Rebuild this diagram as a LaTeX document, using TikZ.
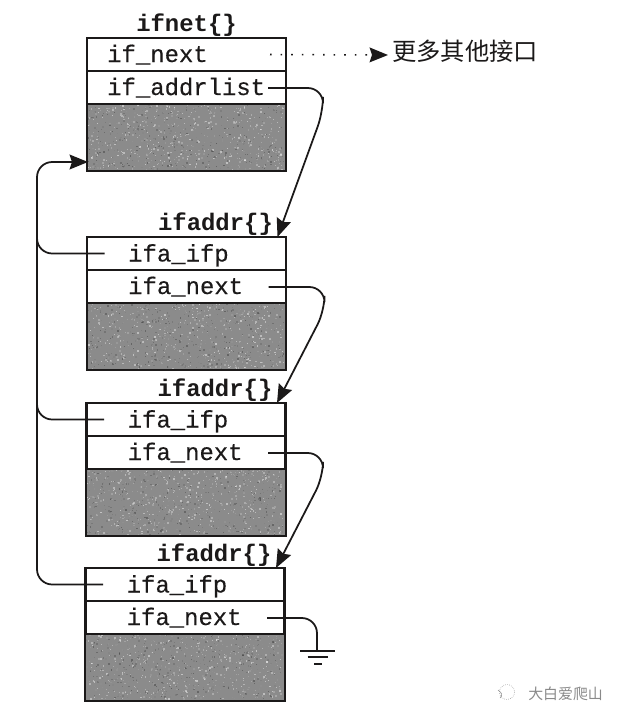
\documentclass[tikz,border=0pt]{standalone}
\usepackage{fontspec}
\setmonofont{Liberation Mono}
\newfontfamily\fieldfont{Liberation Mono}[FakeBold=0.3]
\newfontfamily\cjk{Noto Sans CJK SC}
\usetikzlibrary{arrows.meta,calc}
\definecolor{ink}{HTML}{1B1919}
\definecolor{grainGray}{HTML}{8B8B8B}
\definecolor{markGray}{HTML}{8A8A8A}
\tikzset{
  fieldbox/.style={rectangle, draw=ink, fill=white, line width=1.5pt, minimum width=4.975cm, minimum height=0.825cm, inner sep=0pt},
  grainbox/.style={rectangle, fill=grainGray, minimum width=4.975cm, minimum height=1.675cm, inner sep=0pt},
  lbl/.style={font=\fieldfont\fontsize{17}{20}\selectfont, text=ink, inner sep=0pt, anchor=base west},
  ttl/.style={font=\ttfamily\bfseries\fontsize{17}{20}\selectfont, text=ink, inner sep=0pt, anchor=base},
}
\newcommand{\speckle}[1]{%
  \begin{scope}[shift={(#1.north west)}]
  \foreach \i in {1,...,900} {
    \pgfmathsetmacro{\gx}{rnd*196}
    \pgfmathsetmacro{\gy}{rnd*65}
    \pgfmathsetmacro{\gs}{0.8+rnd*1.0}
    \pgfmathsetmacro{\gw}{int(25+rnd*75)}
    \fill[white!\gw!black, opacity=0.5] (\gx,\gy) rectangle ++(\gs,\gs);
  }
  \end{scope}
  \draw[ink, line width=1.5pt] (#1.north west) rectangle (#1.south east);
}
\begin{document}
\begin{tikzpicture}[x=0.025cm, y=-0.025cm,
  link/.style={draw=ink, line width=1.25pt, rounded corners=0.38cm},
  tip/.style={-{Stealth[length=4.6mm, width=3.7mm, inset=0.6mm]}},
  wire/.style={draw=ink, line width=1.1pt}]
\useasboundingbox (0,0) rectangle (622,718);
\pgfmathsetseed{41}
\node[ttl] (ifnetTitle) at (186.5,31) {ifnet\{\}};
\node[fieldbox] (ifNext) at (186.5,54.5) {};
\node[fieldbox] (ifAddrlist) at (186.5,87.5) {};
\node[grainbox] (ifnetGrain) at (186.5,137.5) {};
\speckle{ifnetGrain}
\node[lbl] (ifNextText) at (107,62) {if\_next};
\node[lbl] (ifAddrlistText) at (107,95) {if\_addrlist};
\foreach \n/\x/\y in {A/186.5/237,B/186/403,C/185/568} {
  \node[ttl] (title\n) at ($(\x,\y)+(29,-7)$) {ifaddr\{\}};
  \node[fieldbox] (ifp\n) at ($(\x,\y)+(0,16.5)$) {};
  \node[fieldbox] (next\n) at ($(\x,\y)+(0,49.5)$) {};
  \node[grainbox] (grain\n) at ($(\x,\y)+(0,99.5)$) {};
  \speckle{grain\n}
  \node[lbl] (ifpText\n) at ($(\x,\y)+(-58.5,24.5)$) {ifa\_ifp};
  \node[lbl] (nextText\n) at ($(\x,\y)+(-58.5,57)$) {ifa\_next};
  \coordinate (ifpOut\n) at ($(\x,\y)+(-82,16.5)$);
  \coordinate (nextOut\n) at ($(\x,\y)+(82,50)$);
  \coordinate (addrIn\n) at ($(\x,\y)+(91,0)$);
}
\node[font=\cjk\fontsize{17.3}{20}\selectfont, text=ink, inner sep=0pt, anchor=west] (moreIf) at (392,51) {更多其他接口};
\coordinate (ifNextOut) at (270,54.5);
\coordinate (moreIn) at (388,55);
\coordinate (ifAddrOut) at (268,88);
\coordinate (ifnetIn) at (88,162);
\coordinate (railX) at (37,200);
\draw[wire, dash pattern=on 0.04cm off 0.225cm, tip] (ifNextOut) -- (moreIn);
\draw[link, tip] (ifAddrOut) -- ++(55,0) -- ++(0,24) -- (addrInA);
\draw[link, tip] (nextOutA) -- ++(56,0) -- ++(0,24) -- (addrInB);
\draw[link, tip] (nextOutB) -- ++(55,0) -- ++(0,24) -- (addrInC);
\draw[link, tip] (ifpOutC) -| (railX) |- (ifnetIn);
\draw[link] (ifpOutA) -| (railX);
\draw[link] (ifpOutB) -| (railX);
\coordinate (groundTop) at (317,651);
\draw[link] (nextOutC) -| (groundTop);
\coordinate (groundB) at (317.5,657);
\coordinate (groundC) at (318,664);
\draw[wire] ($(groundTop)+(-17,0)$) -- ($(groundTop)+(18,0)$);
\draw[wire] ($(groundB)+(-10,0)$) -- ($(groundB)+(10,0)$);
\draw[wire] ($(groundC)+(-4,0)$) -- ($(groundC)+(4,0)$);
\node[font=\cjk\fontsize{10.6}{12}\selectfont, text=markGray, inner sep=0pt, anchor=west] (markText) at (528,694) {大白爱爬山};
\draw[markGray, line width=0.4pt, densely dotted] (507,692) circle (7.5);
\draw[markGray, line width=0.4pt] (498,690) .. controls (502,693) and (503,695) .. (500,698);
\end{tikzpicture}
\end{document}
